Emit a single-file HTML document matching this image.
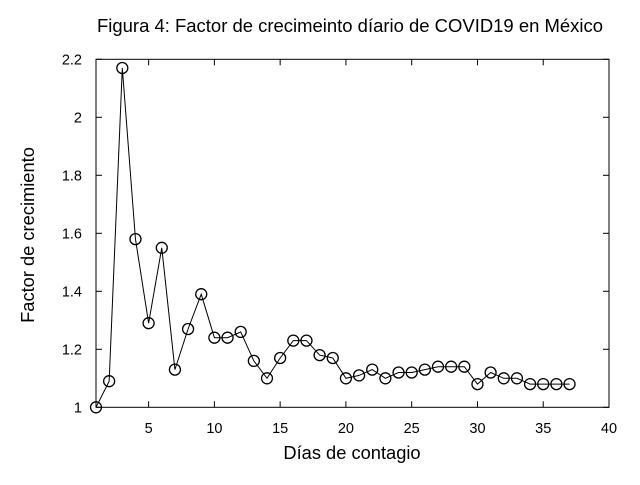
<!DOCTYPE html>
<html><head><meta charset="utf-8"><style>
body{margin:0;background:#fff;}
svg text{font-family:"Liberation Sans",Arial,sans-serif;fill:#000;}
</style></head><body>
<svg id="s" width="640" height="480" viewBox="0 0 640 480" xmlns="http://www.w3.org/2000/svg">
<rect width="640" height="480" fill="#fff"/>
<text x="350" y="32" font-size="18.5" text-anchor="middle" textLength="506" lengthAdjust="spacingAndGlyphs">Figura 4: Factor de crecimeinto díario de COVID19 en México</text>
<rect x="96" y="59.3" width="513" height="348" fill="none" stroke="#000" stroke-width="1"/>
<g id="ticks" stroke="#000" stroke-width="1"></g>
<g id="lab" font-size="14.5"></g>
<text x="352" y="459" font-size="18.3" text-anchor="middle">Días de contagio</text>
<text transform="translate(34,235) rotate(-90)" font-size="18.3" text-anchor="middle">Factor de crecimiento</text>
<polyline id="ln" fill="none" stroke="#000" stroke-width="1"/>
<g id="pts" fill="none" stroke="#000" stroke-width="1.3"></g>
</svg>
<script>
var d=[1,1.09,2.17,1.58,1.29,1.55,1.13,1.27,1.39,1.24,1.24,1.26,1.16,1.10,1.17,1.23,1.23,1.18,1.17,1.10,1.11,1.13,1.10,1.12,1.12,1.13,1.14,1.14,1.14,1.08,1.12,1.10,1.10,1.08,1.08,1.08,1.08];
function X(x){return 96+(x-1)*513/39;}
function Y(y){return 407.3-(y-1)*348/1.2;}
var ns="http://www.w3.org/2000/svg",t=document.getElementById('ticks'),l=document.getElementById('lab');
function el(p,n,a,txt){var e=document.createElementNS(ns,n);for(var k in a)e.setAttribute(k,a[k]);if(txt)e.textContent=txt;p.appendChild(e);}
for(var v=5;v<=40;v+=5){var x=X(v);el(t,'line',{x1:x,x2:x,y1:407.3,y2:401.3});el(t,'line',{x1:x,x2:x,y1:59.3,y2:65.3});el(l,'text',{x:x,y:433,'text-anchor':'middle'},String(v));}
var ys=[1,1.2,1.4,1.6,1.8,2,2.2];
ys.forEach(function(v){var y=Y(v);el(t,'line',{x1:96,x2:102,y1:y,y2:y});el(t,'line',{x1:609,x2:603,y1:y,y2:y});el(l,'text',{x:82,y:y+5,'text-anchor':'end'},String(v));});
var p=[],g=document.getElementById('pts');
d.forEach(function(v,i){var x=X(i+1),y=Y(v);p.push(x+','+y);el(g,'circle',{cx:x,cy:y,r:5.5});});
document.getElementById('ln').setAttribute('points',p.join(' '));
</script>
</body></html>
